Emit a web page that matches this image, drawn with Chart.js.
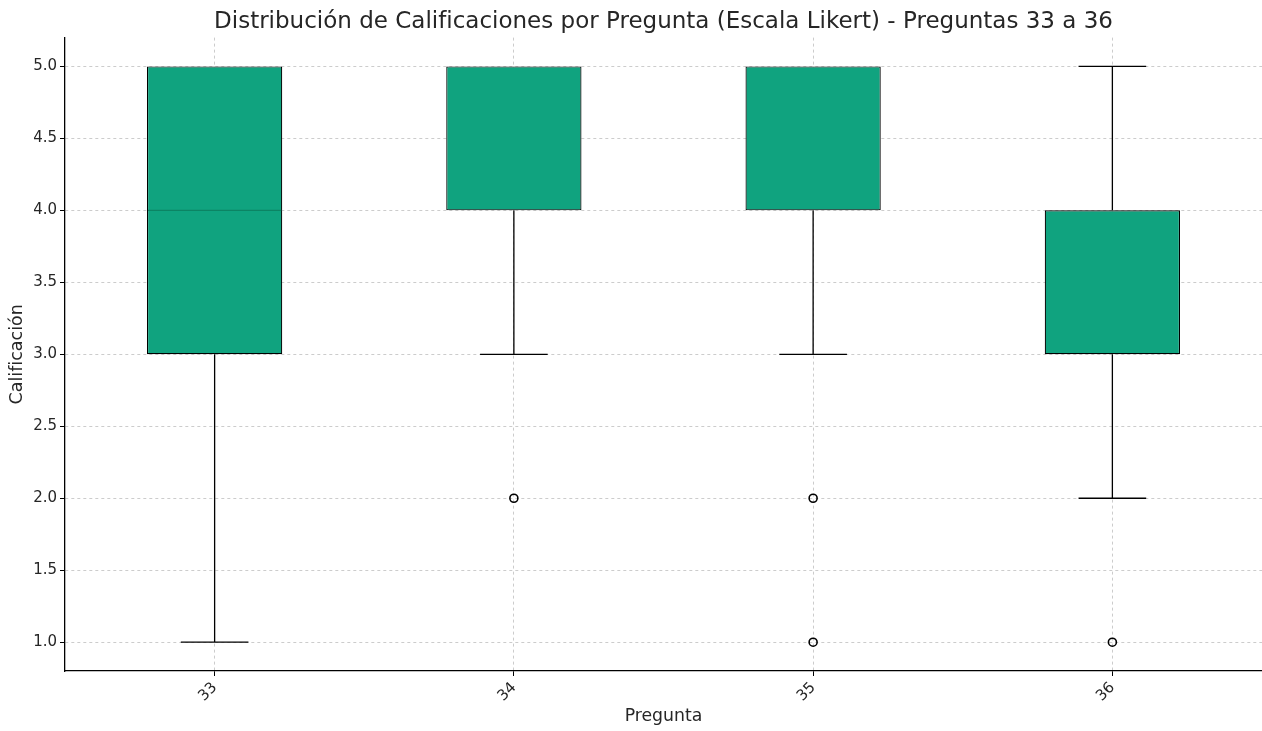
<!DOCTYPE html>
<html lang="es">
<head>
<meta charset="UTF-8">
<title>Distribución de Calificaciones por Pregunta</title>
<script src="https://cdn.jsdelivr.net/npm/chart.js"></script>
<style>
    body { margin: 0; background: #fff; overflow: hidden; }
    #wrap { width: 1262px; height: 731px; }
    canvas { display: block; }
</style>
</head>
<body>
<div id="wrap"><canvas id="boxChart" width="1262" height="731"></canvas></div>
<script>
// datos
const preguntas = ['33', '34', '35', '36'];
const q1 = [3, 4, 4, 3];
const q3 = [5, 5, 5, 4];
const medianas = [4, 5, 5, 4];
const bigoteMin = [1, 3, 3, 2];
const bigoteMax = [5, 5, 5, 5];
const atipicos = [[], [2], [2, 1], [1]];
const yTicks = [1.0, 1.5, 2.0, 2.5, 3.0, 3.5, 4.0, 4.5, 5.0];

const FONT = "'DejaVu Sans', sans-serif";
const GRID = 'rgba(0,0,0,0.2)';
const TEXT = '#262626';

// puntos atípicos como {x, y}
const puntosAtipicos = [];
atipicos.forEach((vals, i) => {
    vals.forEach(v => puntosAtipicos.push({ x: preguntas[i], y: v }));
});

// bigotes y medianas, dibujados sobre las escalas
const bigotesPlugin = {
    id: 'bigotes',
    afterDatasetsDraw(chart) {
        const { ctx, scales: { x, y } } = chart;
        const meta = chart.getDatasetMeta(0);
        ctx.save();
        preguntas.forEach((p, i) => {
            const bar = meta.data[i];
            const cx = x.getPixelForValue(i);
            const half = bar.width / 2;
            const cap = half / 2;
            ctx.strokeStyle = '#000';
            ctx.lineWidth = 1.3;
            ctx.beginPath();
            // bigote inferior
            ctx.moveTo(cx, y.getPixelForValue(q1[i]));
            ctx.lineTo(cx, y.getPixelForValue(bigoteMin[i]));
            ctx.moveTo(cx - cap, y.getPixelForValue(bigoteMin[i]));
            ctx.lineTo(cx + cap, y.getPixelForValue(bigoteMin[i]));
            // bigote superior
            ctx.moveTo(cx, y.getPixelForValue(q3[i]));
            ctx.lineTo(cx, y.getPixelForValue(bigoteMax[i]));
            if (bigoteMax[i] !== q3[i]) {
                ctx.moveTo(cx - cap, y.getPixelForValue(bigoteMax[i]));
                ctx.lineTo(cx + cap, y.getPixelForValue(bigoteMax[i]));
            }
            ctx.stroke();
            // mediana (si coincide con el borde de la caja, el borde queda encima)
            if (medianas[i] !== q1[i] && medianas[i] !== q3[i]) {
                const my = y.getPixelForValue(medianas[i]);
                ctx.strokeStyle = '#0c8464';
                ctx.lineWidth = 1.3;
                ctx.beginPath();
                ctx.moveTo(cx - half + 1, my);
                ctx.lineTo(cx + half - 1, my);
                ctx.stroke();
            }
        });
        ctx.restore();
    }
};

const ctx = document.getElementById('boxChart').getContext('2d');
const chart = new Chart(ctx, {
    type: 'bar',
    data: {
        labels: preguntas,
        datasets: [
            {
                label: 'Caja',
                data: preguntas.map((p, i) => [q1[i], q3[i]]),
                backgroundColor: '#10a37f',
                borderColor: '#000',
                borderWidth: 1.2,
                borderSkipped: false,
                barPercentage: 0.452,
                categoryPercentage: 1.0,
                order: 2
            },
            {
                type: 'line',
                label: 'Atípicos',
                data: puntosAtipicos,
                showLine: false,
                pointStyle: 'circle',
                pointRadius: 4,
                pointBorderWidth: 1.6,
                pointBorderColor: '#000',
                pointBackgroundColor: 'rgba(255,255,255,0)',
                order: 1
            }
        ]
    },
    options: {
        responsive: false,
        animation: false,
        layout: { autoPadding: false, padding: 0 },
        plugins: {
            legend: { display: false },
            tooltip: { enabled: false },
            title: {
                display: true,
                fullSize: false,
                text: 'Distribución de Calificaciones por Pregunta (Escala Likert) - Preguntas 33 a 36',
                color: TEXT,
                font: { family: FONT, size: 23, weight: 'normal', lineHeight: 1.2 },
                padding: { top: 8, bottom: 2 }
            }
        },
        scales: {
            x: {
                offset: true,
                grid: {
                    offset: false,
                    color: GRID,
                    drawTicks: true,
                    tickLength: 5,
                    tickColor: '#000',
                    tickWidth: 1
                },
                border: { display: true, color: '#000', width: 1.3, dash: [3, 3] },
                ticks: {
                    color: TEXT,
                    font: { family: FONT, size: 15 },
                    minRotation: 45,
                    maxRotation: 45,
                    padding: 3
                },
                title: {
                    display: true,
                    text: 'Pregunta',
                    color: TEXT,
                    font: { family: FONT, size: 17.3 },
                    padding: { top: 0, bottom: 4 }
                },
                afterFit(scale) {
                    scale.height = 60;
                    scale.paddingLeft = 0;
                    scale.paddingRight = 0;
                }
            },
            y: {
                min: 0.8,
                max: 5.2,
                grid: {
                    color: GRID,
                    drawTicks: true,
                    tickLength: 5,
                    tickColor: '#000',
                    tickWidth: 1
                },
                border: { display: true, color: '#000', width: 1.3, dash: [3, 3] },
                afterBuildTicks(scale) {
                    scale.ticks = yTicks.map(v => ({ value: v }));
                },
                ticks: {
                    color: TEXT,
                    font: { family: FONT, size: 15 },
                    padding: 3,
                    callback: v => Number(v).toFixed(1)
                },
                title: {
                    display: true,
                    text: 'Calificación',
                    color: TEXT,
                    font: { family: FONT, size: 17.5 },
                    padding: { top: 7, bottom: 0 }
                },
                afterFit(scale) {
                    scale.width = 65;
                    scale.paddingTop = 0;
                    scale.paddingBottom = 0;
                }
            }
        }
    },
    plugins: [bigotesPlugin]
});
</script>
</body>
</html>
